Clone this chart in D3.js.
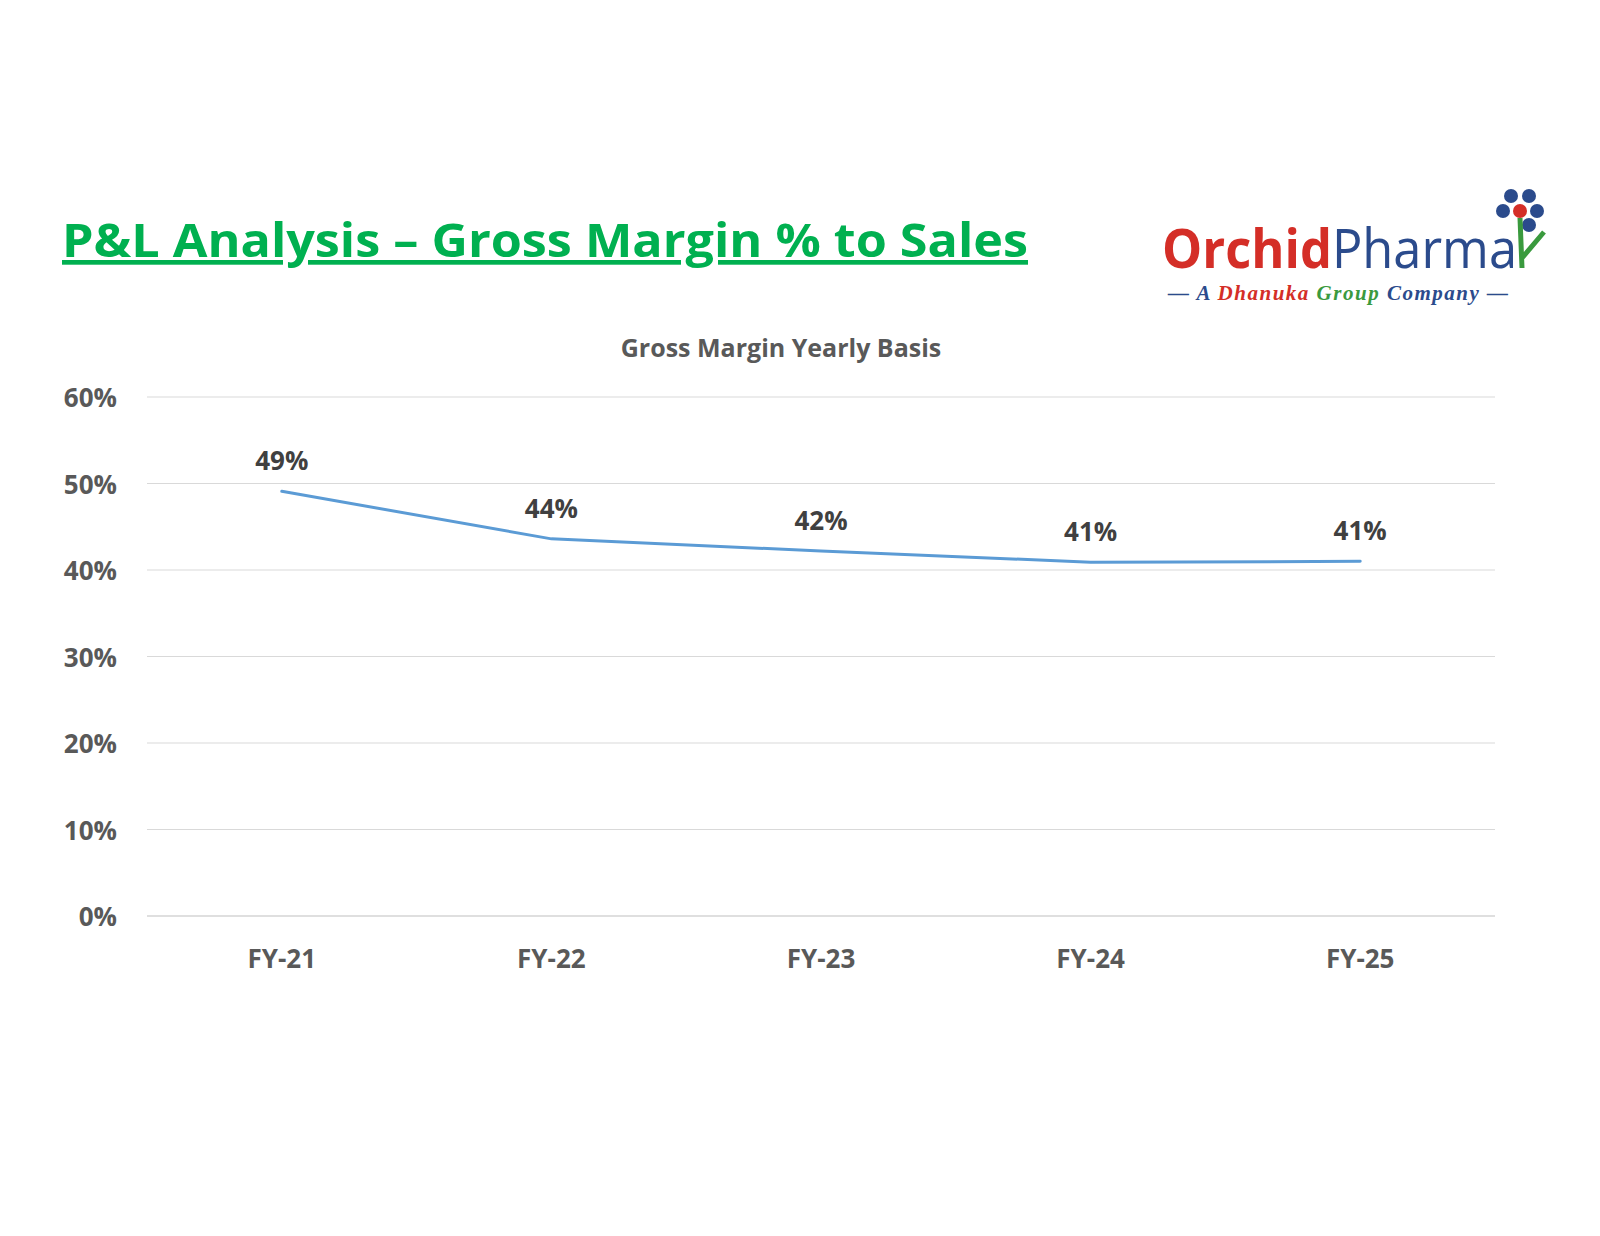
<!DOCTYPE html>
<html>
<head>
<meta charset="UTF-8">
<script src="https://cdn.jsdelivr.net/npm/d3@7"></script>
<style>body{margin:0;background:#fff}</style>
</head>
<body>
<svg id="c" width="1600" height="1236"></svg>
<script>
var years = ["FY-21", "FY-22", "FY-23", "FY-24", "FY-25"];
var margins = [49.1, 43.6, 42.2, 40.9, 41.0];
var labels = ["49%", "44%", "42%", "41%", "41%"];
var yTicks = [0, 10, 20, 30, 40, 50, 60];

var svg = d3.select("#c");
var font = "'Open Sans', sans-serif";

// header
svg.append("text").attr("x", 62).attr("y", 257)
	.attr("font-family", font).attr("font-weight", "bold").attr("font-size", 47)
	.attr("fill", "#00b050").attr("text-decoration", "underline")
	.attr("textLength", 966).attr("lengthAdjust", "spacingAndGlyphs")
	.text("P&L Analysis \u2013 Gross Margin % to Sales");

// logo
var logo = svg.append("g");
logo.append("text").attr("x", 1162).attr("y", 268).attr("font-family", font).attr("font-size", 54)
	.attr("textLength", 355).attr("lengthAdjust", "spacingAndGlyphs")
	.html('<tspan fill="#d42e27" font-weight="bold">Orchid</tspan><tspan fill="#2b4b8c">Pharma</tspan>');
logo.append("text").attr("x", 1168).attr("y", 300).attr("font-family", "'Liberation Serif', serif")
	.attr("font-size", 21).attr("font-style", "italic").attr("font-weight", "bold")
	.attr("textLength", 340).attr("lengthAdjust", "spacing")
	.html('<tspan fill="#2b4b8c">\u2014 A </tspan><tspan fill="#d42e27">Dhanuka</tspan><tspan fill="#3a9a3e"> Group</tspan><tspan fill="#2b4b8c"> Company \u2014</tspan>');
[[1511,196,"#2b4b8c"],[1529,196,"#2b4b8c"],[1503,211,"#2b4b8c"],[1520,211,"#d42e27"],[1537,211,"#2b4b8c"],[1529,225,"#2b4b8c"]]
	.forEach(function (d) { logo.append("circle").attr("cx", d[0]).attr("cy", d[1]).attr("r", 7).attr("fill", d[2]); });
logo.append("path").attr("d", "M1520,218 L1522,268 M1522,258 L1544,232").attr("stroke", "#3a9a3e").attr("stroke-width", 5).attr("fill", "none");

// chart
svg.append("text").attr("x", 781).attr("y", 357).attr("text-anchor", "middle")
	.attr("font-family", font).attr("font-weight", "bold").attr("font-size", 25).attr("fill", "#595959")
	.text("Gross Margin Yearly Basis");

var x = d3.scaleBand().domain(years).range([147, 1495]);
var y = d3.scaleLinear().domain([0, 60]).range([916, 397]);

svg.append("g").selectAll("line").data(yTicks).join("line")
	.attr("x1", 147).attr("x2", 1495).attr("y1", d => y(d)).attr("y2", d => y(d))
	.attr("stroke", d => d === 0 ? "#bfbfbf" : "#d9d9d9").attr("stroke-width", 1);

svg.append("g").selectAll("text").data(yTicks).join("text")
	.attr("x", 117).attr("y", d => y(d) + 10).attr("text-anchor", "end")
	.attr("font-family", font).attr("font-weight", "bold").attr("font-size", 26).attr("fill", "#595959")
	.text(d => d + "%");

svg.append("g").selectAll("text").data(years).join("text")
	.attr("x", d => x(d) + x.bandwidth() / 2).attr("y", 968).attr("text-anchor", "middle")
	.attr("font-family", font).attr("font-weight", "bold").attr("font-size", 26).attr("fill", "#595959")
	.text(d => d);

var line = d3.line().x((d, i) => x(years[i]) + x.bandwidth() / 2).y(d => y(d));
svg.append("path").datum(margins).attr("d", line).attr("fill", "none")
	.attr("stroke", "#5b9bd5").attr("stroke-width", 3).attr("stroke-linecap", "round");

svg.append("g").selectAll("text").data(margins).join("text")
	.attr("x", (d, i) => x(years[i]) + x.bandwidth() / 2).attr("y", d => y(d) - 21).attr("text-anchor", "middle")
	.attr("font-family", font).attr("font-weight", "bold").attr("font-size", 26).attr("fill", "#404040")
	.text((d, i) => labels[i]);
</script>
</body>
</html>
